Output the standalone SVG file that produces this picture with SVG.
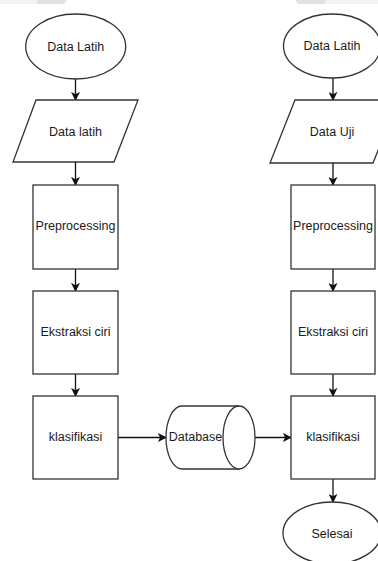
<svg xmlns="http://www.w3.org/2000/svg" width="378" height="561" viewBox="0 0 378 561">
<defs>
<style>
.s{fill:#fff;stroke:#333;stroke-width:1.3}
.t{font-family:"Liberation Sans",Arial,sans-serif;font-size:12.5px;fill:#1a1a1a;text-anchor:middle;dominant-baseline:central}
.c{fill:none;stroke:#111;stroke-width:1.3}
</style>
<marker id="a" viewBox="0 0 10 10" refX="9" refY="5" markerWidth="9" markerHeight="9" markerUnits="userSpaceOnUse" orient="auto">
<path d="M0,0 L10,5 L0,10 L2.5,5 Z" fill="#111"/>
</marker>
</defs>
<rect width="378" height="561" fill="#fff"/>
<g id="banner">
<rect x="0" y="0" width="40" height="4" fill="#f2f2f2"/>
<polygon points="37,0 67,0 64,4 37,4" fill="#e2e2e2"/>
<polygon points="295,0 325,0 325,4 298,4" fill="#e2e2e2"/>
<rect x="325" y="0" width="53" height="4" fill="#f2f2f2"/>
</g>
<g id="connectors">
<line class="c" x1="75.5" y1="79" x2="75.5" y2="100" marker-end="url(#a)"/>
<line class="c" x1="75.5" y1="162" x2="75.5" y2="185" marker-end="url(#a)"/>
<line class="c" x1="75.5" y1="269" x2="75.5" y2="291" marker-end="url(#a)"/>
<line class="c" x1="75.5" y1="374" x2="75.5" y2="396" marker-end="url(#a)"/>
<line class="c" x1="118" y1="437.5" x2="166" y2="437.5" marker-end="url(#a)"/>
<line class="c" x1="255" y1="437.5" x2="291" y2="437.5" marker-end="url(#a)"/>
<line class="c" x1="333" y1="78" x2="333" y2="100" marker-end="url(#a)"/>
<line class="c" x1="333" y1="163" x2="333" y2="185" marker-end="url(#a)"/>
<line class="c" x1="333" y1="269" x2="333" y2="291" marker-end="url(#a)"/>
<line class="c" x1="333" y1="374" x2="333" y2="396" marker-end="url(#a)"/>
<line class="c" x1="333" y1="479" x2="333" y2="502" marker-end="url(#a)"/>
</g>
<g id="n1"><ellipse class="s" cx="75.7" cy="46.5" rx="50" ry="32.5"/><text class="t" x="75.7" y="46.5">Data Latih</text></g>
<g id="n2"><polygon class="s" points="36,100 138,100 114,162 13,162"/><text class="t" x="75.5" y="132">Data latih</text></g>
<g id="n3"><rect class="s" x="33" y="185" width="85" height="84"/><text class="t" x="75.5" y="226">Preprocessing</text></g>
<g id="n4"><rect class="s" x="33" y="291" width="85" height="83"/><text class="t" x="75.5" y="332">Ekstraksi ciri</text></g>
<g id="n5"><rect class="s" x="33" y="396" width="85" height="83"/><text class="t" x="75.5" y="437">klasifikasi</text></g>
<g id="db"><path class="s" d="M182,406 L239,406 A16,31.5 0 0,1 239,469 L182,469 A16,31.5 0 0,1 182,406 Z"/><path class="s" fill="none" d="M239,406 A16,31.5 0 0,0 239,469"/><text class="t" x="195.5" y="437">Database</text></g>
<g id="m1"><ellipse class="s" cx="332" cy="46" rx="48.5" ry="32"/><text class="t" x="332" y="46">Data Latih</text></g>
<g id="m2"><polygon class="s" points="295,100 398,100 373,163 270,163"/><text class="t" x="332" y="131.5">Data Uji</text></g>
<g id="m3"><rect class="s" x="291" y="185" width="84" height="84"/><text class="t" x="333" y="226">Preprocessing</text></g>
<g id="m4"><rect class="s" x="291" y="291" width="84" height="83"/><text class="t" x="333" y="332">Ekstraksi ciri</text></g>
<g id="m5"><rect class="s" x="291" y="396" width="84" height="83"/><text class="t" x="333" y="437">klasifikasi</text></g>
<g id="m6"><ellipse class="s" cx="332" cy="533" rx="49" ry="31"/><text class="t" x="332" y="534">Selesai</text></g>
</svg>
